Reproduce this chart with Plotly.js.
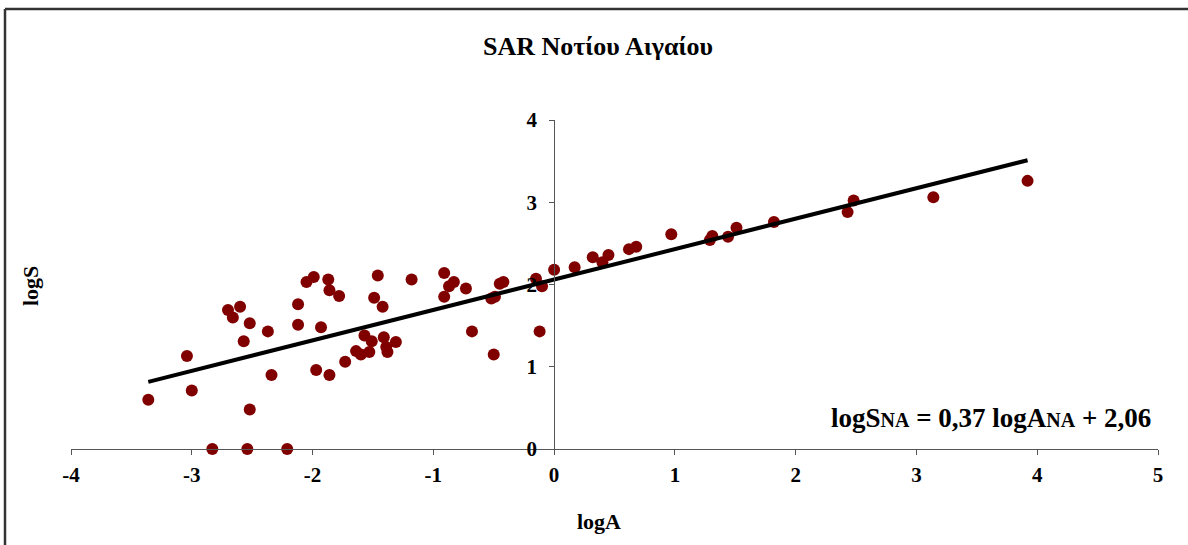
<!DOCTYPE html>
<html>
<head>
<meta charset="utf-8">
<script src="https://cdn.plot.ly/plotly-3.0.1.min.js"></script>
<style>
  html, body { margin: 0; padding: 0; background: #fff; }
  #chart { width: 1188px; height: 545px; }
</style>
</head>
<body>
<div id="chart"></div>
<script>
// Data
const logA = [
  -3.36, -3.04, -3.00, -2.83, -2.54, -2.21, -2.70, -2.66, -2.60, -2.57,
  -2.52, -2.52, -2.37, -2.34, -2.12, -2.12, -2.05, -1.99, -1.97, -1.93,
  -1.87, -1.86, -1.86, -1.78, -1.73, -1.64, -1.60, -1.57, -1.53, -1.51,
  -1.49, -1.46, -1.42, -1.41, -1.39, -1.38, -1.31, -1.18, -0.91, -0.91,
  -0.87, -0.83, -0.73, -0.68, -0.52, -0.49, -0.50, -0.45, -0.42, -0.15,
  -0.10, -0.12, 0.00, 0.17, 0.32, 0.40, 0.45, 0.62, 0.68, 0.97,
  1.29, 1.31, 1.44, 1.51, 1.82, 2.43, 2.48, 3.14, 3.92
];
const logS = [
  0.60, 1.13, 0.71, 0.00, 0.00, 0.00, 1.69, 1.60, 1.73, 1.31,
  1.53, 0.48, 1.43, 0.90, 1.76, 1.51, 2.03, 2.09, 0.96, 1.48,
  2.06, 1.93, 0.90, 1.86, 1.06, 1.19, 1.15, 1.38, 1.18, 1.31,
  1.84, 2.11, 1.73, 1.36, 1.24, 1.18, 1.30, 2.06, 2.14, 1.85,
  1.98, 2.03, 1.95, 1.43, 1.83, 1.85, 1.15, 2.01, 2.03, 2.07,
  1.98, 1.43, 2.18, 2.21, 2.33, 2.27, 2.36, 2.43, 2.46, 2.61,
  2.54, 2.59, 2.58, 2.69, 2.76, 2.88, 3.02, 3.06, 3.26
];
// Linear trendline shown on the chart: logS = 0.37 logA + 2.06
const trendSlope = 0.37;
const trendIntercept = 2.06;
const xTickVals = [-4, -3, -2, -1, 0, 1, 2, 3, 4, 5];
const yTickVals = [0, 1, 2, 3, 4];
const titleText = 'SAR Νοτίου Αιγαίου';
const xTitle = 'logA';
const yTitle = 'logS';
const equationText = 'logS<span style="font-size:20px">NA</span> = 0,37 logA<span style="font-size:20px">NA</span> + 2,06';

const xMin = Math.min(...logA), xMax = Math.max(...logA);
const trendX = [xMin, xMax];
const trendY = trendX.map(v => trendSlope * v + trendIntercept);

const FONT = '"Liberation Serif", "Times New Roman", serif';
const AX = '#555555';

const traces = [
  {
    type: 'scatter', mode: 'markers', x: logA, y: logS,
    marker: { color: '#800000', size: 12, line: { width: 0 } },
    cliponaxis: false, showlegend: false, hoverinfo: 'x+y'
  },
  {
    type: 'scatter', mode: 'lines', x: trendX, y: trendY,
    line: { color: '#000000', width: 4 },
    cliponaxis: false, showlegend: false, hoverinfo: 'skip'
  }
];

// margins: plot area x: 71 -> 1158, y: 120 -> 449
const L = 71, R = 30, T = 120, B = 96;
const PW = 1188 - L - R, PH = 545 - T - B;
const px = v => (v - L) / PW;
const py = v => (545 - B - v) / PH;

const layout = {
  width: 1188, height: 545,
  margin: { l: L, r: R, t: T, b: B, pad: 0 },
  paper_bgcolor: '#ffffff', plot_bgcolor: '#ffffff',
  font: { family: FONT, color: '#000000', size: 21 },
  title: {
    text: '<b>' + titleText + '</b>',
    font: { family: FONT, size: 26, color: '#000000' },
    x: px(598), xref: 'paper', xanchor: 'center',
    y: 1 - 46 / 545, yref: 'container', yanchor: 'middle'
  },
  xaxis: {
    range: [-4, 5], tickmode: 'array', tickvals: xTickVals,
    ticktext: xTickVals.map(v => '<b>' + v + '</b>'),
    showgrid: false, zeroline: false,
    showline: true, linecolor: AX, linewidth: 1,
    ticks: 'outside', ticklen: 5, tickcolor: AX, tickwidth: 1,
    tickfont: { family: FONT, size: 21, color: '#000' },
    ticklabelstandoff: 2,
    fixedrange: true
  },
  yaxis: {
    range: [0, 4], tickmode: 'array', tickvals: yTickVals,
    ticktext: yTickVals.map(v => '<b>' + v + '</b>'),
    anchor: 'free', position: 4 / 9, side: 'left',
    showgrid: false, zeroline: false,
    showline: true, linecolor: AX, linewidth: 1,
    ticks: 'outside', ticklen: 5, tickcolor: AX, tickwidth: 1,
    tickfont: { family: FONT, size: 21, color: '#000' },
    ticklabelstandoff: 8,
    fixedrange: true
  },
  annotations: [
    {
      text: '<b>' + xTitle + '</b>', xref: 'paper', yref: 'paper',
      x: px(599), y: py(521), xanchor: 'center', yanchor: 'middle',
      showarrow: false, font: { family: FONT, size: 22, color: '#000' }
    },
    {
      text: '<b>' + yTitle + '</b>', xref: 'paper', yref: 'paper',
      x: px(30), y: py(286), xanchor: 'center', yanchor: 'middle',
      textangle: -90, showarrow: false,
      font: { family: FONT, size: 22, color: '#000' }
    },
    {
      text: '<b>' + equationText + '</b>', xref: 'paper', yref: 'paper',
      x: px(1153), y: py(418), xanchor: 'right', yanchor: 'middle',
      showarrow: false, font: { family: FONT, size: 27, color: '#000' }
    }
  ],
  shapes: [
    { type: 'line', xref: 'paper', yref: 'paper',
      x0: px(5), x1: px(5), y0: py(9), y1: py(545),
      line: { color: '#333333', width: 2.5 } },
    { type: 'line', xref: 'paper', yref: 'paper',
      x0: px(5), x1: px(1188), y0: py(9), y1: py(9),
      line: { color: '#333333', width: 2.5 } }
  ]
};

Plotly.newPlot('chart', traces, layout, { displayModeBar: false, staticPlot: true });
</script>
</body>
</html>
